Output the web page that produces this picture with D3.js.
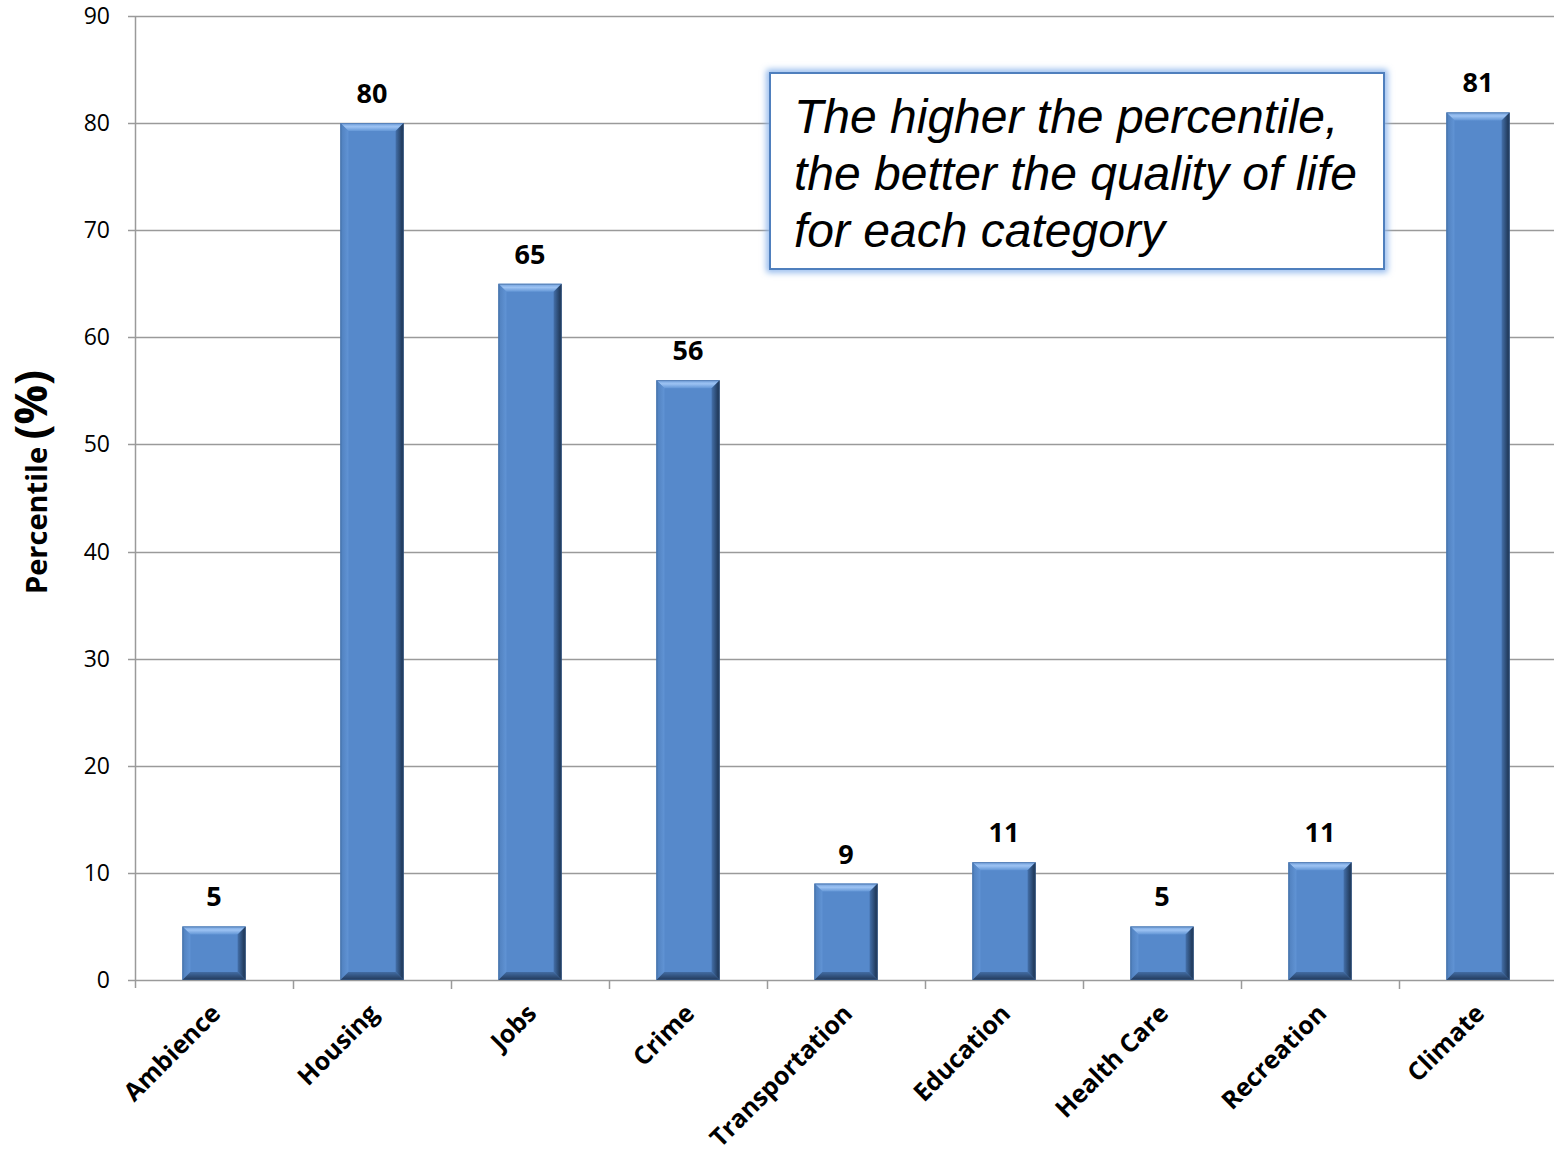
<!DOCTYPE html>
<html>
<head>
<meta charset="utf-8">
<script src="https://cdn.jsdelivr.net/npm/d3@7"></script>
<style>
  html, body { margin: 0; padding: 0; background: #fff; }
  svg { display: block; }
  .tick-label { font-family: "Open Sans", "DejaVu Sans", sans-serif; font-size: 23px; fill: #000; }
  .cat-label { font-family: "Open Sans", sans-serif; font-weight: bold; font-size: 25px; fill: #000; }
  .val-label { font-family: "Open Sans", sans-serif; font-weight: bold; font-size: 27px; fill: #000; }
  .note { font-family: "Liberation Sans", Arial, sans-serif; font-style: italic; font-size: 48px; fill: #000; }
</style>
</head>
<body>
<div id="chart"></div>
<script>
// Perzentile je Kategorie (Lebensqualität)
const categories = ["Ambience", "Housing", "Jobs", "Crime", "Transportation", "Education", "Health Care", "Recreation", "Climate"];
const percentiles = [5, 80, 65, 56, 9, 11, 5, 11, 81];
const yTicks = [0, 10, 20, 30, 40, 50, 60, 70, 80, 90];
const noteLines = ["The higher the percentile,", "the better the quality of life", "for each category"];

const W = 1554, H = 1158;
const M = { top: 16, left: 135, bottom: 178 };
const plotBottom = H - M.bottom; // 980
const plotRight = M.left + 9 * 158;

const svg = d3.select("#chart").append("svg").attr("width", W).attr("height", H);

const x = d3.scaleBand().domain(categories).range([M.left, plotRight]).paddingInner(0.6).paddingOuter(0.3);
const y = d3.scaleLinear().domain([0, 90]).range([plotBottom, M.top]);

const GRID = "#9a9a9a";

// Gitterlinien
svg.append("g").selectAll("line").data(yTicks).join("line")
  .attr("x1", M.left - 7).attr("x2", W)
  .attr("y1", d => Math.round(y(d)) + 0.5).attr("y2", d => Math.round(y(d)) + 0.5)
  .attr("stroke", GRID).attr("stroke-width", 1.5);

// y-Achse
svg.append("line").attr("x1", M.left + 0.5).attr("x2", M.left + 0.5)
  .attr("y1", y(90)).attr("y2", plotBottom + 8)
  .attr("stroke", GRID).attr("stroke-width", 1.5);

svg.append("g").selectAll("text").data(yTicks).join("text")
  .attr("class", "tick-label")
  .attr("x", 110).attr("y", d => y(d) + 8)
  .attr("text-anchor", "end")
  .text(d => d);

// x-Ticks an den Bandgrenzen
const step = x.step();
const bounds = d3.range(1, categories.length).map(i => M.left + i * step);
svg.append("g").selectAll("line").data(bounds).join("line")
  .attr("x1", d => d + 0.5).attr("x2", d => d + 0.5)
  .attr("y1", plotBottom).attr("y2", plotBottom + 9)
  .attr("stroke", GRID).attr("stroke-width", 1.5);

// Verläufe für die Abschrägung
const defs = svg.append("defs");
function lin(id, x1, y1, x2, y2, stops) {
  const g = defs.append("linearGradient").attr("id", id)
    .attr("x1", x1).attr("y1", y1).attr("x2", x2).attr("y2", y2);
  stops.forEach(s => g.append("stop").attr("offset", s[0]).attr("stop-color", s[1]));
}
lin("bev-top", "0", "0", "0", "1", [["0%", "#6f9edb"], ["45%", "#9dc3f3"], ["100%", "#6396d6"]]);
lin("bev-right", "0", "0", "1", "0", [["0%", "#4470aa"], ["100%", "#1a2f4b"]]);
lin("bev-left", "0", "0", "1", "0", [["0%", "#4f7fbd"], ["100%", "#6194d5"]]);
lin("bev-bottom", "0", "0", "0", "1", [["0%", "#426ca3"], ["100%", "#22395a"]]);
const glow = defs.append("filter").attr("id", "glow").attr("x", "-5%").attr("y", "-10%").attr("width", "110%").attr("height", "120%");
glow.append("feGaussianBlur").attr("stdDeviation", 3);

// Balken
const B = 8;
const bars = svg.append("g").selectAll("g").data(categories).join("g");
bars.each(function (c, i) {
  const g = d3.select(this);
  const x0 = x(c), x1 = x(c) + x.bandwidth();
  const y0 = y(percentiles[i]), y1 = y(0);
  const b = Math.min(B, (y1 - y0) / 2);
  g.append("rect").attr("x", x0).attr("y", y0).attr("width", x1 - x0).attr("height", y1 - y0).attr("fill", "#5689cb");
  g.append("polygon").attr("points", [[x0, y0], [x1, y0], [x1 - B, y0 + b], [x0 + B, y0 + b]].join(" ")).attr("fill", "url(#bev-top)");
  g.append("polygon").attr("points", [[x1, y0], [x1, y1], [x1 - B, y1 - b], [x1 - B, y0 + b]].join(" ")).attr("fill", "url(#bev-right)");
  g.append("polygon").attr("points", [[x0, y0], [x0 + B, y0 + b], [x0 + B, y1 - b], [x0, y1]].join(" ")).attr("fill", "url(#bev-left)");
  g.append("polygon").attr("points", [[x0, y1], [x0 + B, y1 - b], [x1 - B, y1 - b], [x1, y1]].join(" ")).attr("fill", "url(#bev-bottom)");
  g.append("rect").attr("x", x0 + 0.5).attr("y", y0 + 0.5).attr("width", x1 - x0 - 1).attr("height", y1 - y0 - 1)
    .attr("fill", "none").attr("stroke", "#3a5f8f").attr("stroke-width", 1).attr("stroke-opacity", 0.5);
});

// Werte über den Balken
svg.append("g").selectAll("text").data(categories).join("text")
  .attr("class", "val-label")
  .attr("x", d => x(d) + x.bandwidth() / 2)
  .attr("y", (d, i) => y(percentiles[i]) - 20)
  .attr("text-anchor", "middle")
  .text((d, i) => percentiles[i]);

// Kategorien, 45° gedreht
svg.append("g").selectAll("text").data(categories).join("text")
  .attr("class", "cat-label")
  .attr("text-anchor", "end")
  .attr("transform", d => `translate(${x(d) + x.bandwidth() / 2 + 8},${plotBottom + 35}) rotate(-45)`)
  .text(d => d);

// y-Achsentitel
const yt = svg.append("text")
  .attr("transform", "translate(47,482) rotate(-90)")
  .attr("text-anchor", "middle")
  .style("font-family", "'Open Sans', sans-serif").style("font-weight", "bold").style("fill", "#000");
yt.append("tspan").style("font-size", "29px").text("Percentile ");
yt.append("tspan").style("font-size", "44px").text("(%)");

// Hinweisbox
const bx = 770, by = 73, bw = 614, bh = 196;
svg.append("rect").attr("x", bx).attr("y", by).attr("width", bw).attr("height", bh)
  .attr("fill", "none").attr("stroke", "#8db6ec").attr("stroke-width", 7).attr("filter", "url(#glow)");
svg.append("rect").attr("x", bx).attr("y", by).attr("width", bw).attr("height", bh)
  .attr("fill", "#fff").attr("stroke", "#4f7fbd").attr("stroke-width", 2);
svg.append("g").selectAll("text").data(noteLines).join("text")
  .attr("class", "note")
  .attr("x", bx + 24)
  .attr("y", (d, i) => by + 60 + i * 57)
  .text(d => d);
</script>
</body>
</html>
